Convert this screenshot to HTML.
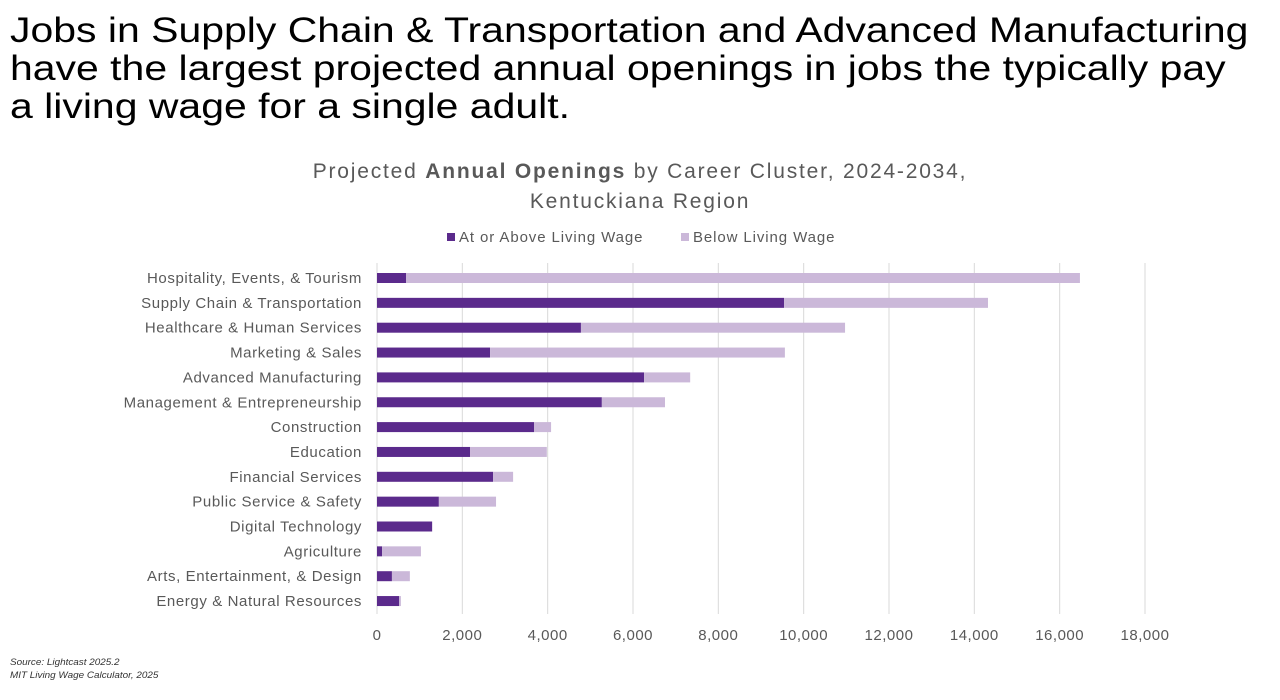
<!DOCTYPE html>
<html><head><meta charset="utf-8"><style>
body{margin:0;width:1280px;height:700px;background:#fff;font-family:"Liberation Sans",sans-serif;overflow:hidden;position:relative}
#title{position:absolute;left:10px;top:12px;font-size:35px;line-height:38px;color:#000;transform:scaleX(1.17);transform-origin:0 0;white-space:nowrap}
.src{position:absolute;left:10px;font-size:9px;font-style:italic;color:#333;transform:scaleX(1.1);transform-origin:0 0}
svg text{letter-spacing:0.5px}
</style></head><body>
<div id="title">Jobs in Supply Chain &amp; Transportation and Advanced Manufacturing<br>have the largest projected annual openings in jobs the typically pay<br>a living wage for a single adult.</div>
<svg id="chart" width="1280" height="700" style="position:absolute;left:0;top:0"></svg>
<div class="src" style="top:657px">Source: Lightcast 2025.2</div>
<div class="src" style="top:670px">MIT Living Wage Calculator, 2025</div>
<script>
const categories=["Hospitality, Events, & Tourism","Supply Chain & Transportation","Healthcare & Human Services","Marketing & Sales","Advanced Manufacturing","Management & Entrepreneurship","Construction","Education","Financial Services","Public Service & Safety","Digital Technology","Agriculture","Arts, Entertainment, & Design","Energy & Natural Resources"];
const aboveWage=[680,9540,4780,2650,6260,5270,3680,2180,2720,1450,1290,120,350,520];
const belowWage=[15795,4780,6190,6910,1080,1480,400,1800,470,1340,10,910,420,40];
const xTicks=[0,2000,4000,6000,8000,10000,12000,14000,16000,18000];
const NS="http://www.w3.org/2000/svg";
const svg=document.getElementById('chart');
const x0=377,x1=1145,xMax=18000,y0=278,step=24.85,bh=10;
const X=v=>x0+(x1-x0)*v/xMax;
const Y=i=>y0+i*step;
function mk(t,a,txt){const e=document.createElementNS(NS,t);for(const k in a)e.setAttribute(k,a[k]);if(txt!==undefined)e.textContent=txt;svg.appendChild(e);return e;}
let t=mk('text',{x:640,y:178,'text-anchor':'middle','font-size':21,fill:'#595959',style:'letter-spacing:1.8px'});
t.innerHTML='Projected <tspan font-weight="bold">Annual Openings</tspan> by Career Cluster, 2024-2034,';


t=mk('text',{x:640,y:208,'text-anchor':'middle','font-size':21,fill:'#595959',style:'letter-spacing:1.8px'},'Kentuckiana Region');


let r=mk('rect',{x:447,y:233,width:8,height:8,fill:'#5b2a8c'});


t=mk('text',{x:459,y:242,'font-size':15,fill:'#595959',style:'letter-spacing:0.9px'},'At or Above Living Wage');


r=mk('rect',{x:681,y:233,width:8,height:8,fill:'#cbb8d9'});


t=mk('text',{x:693,y:242,'font-size':15,fill:'#595959',style:'letter-spacing:0.9px'},'Below Living Wage');


xTicks.forEach(v=>{
 const l=mk('line',{x1:X(v),x2:X(v),y1:263,y2:614,stroke:'#d9d9d9','stroke-width':1});
 
 
 const tt=mk('text',{x:X(v),y:640,'text-anchor':'middle','font-size':15,fill:'#595959'},v.toLocaleString('en-US'));
 
 
});
categories.forEach((c,i)=>{
 const cy=Y(i);
 const lb=mk('text',{x:362,y:cy+5,'text-anchor':'end','font-size':15,fill:'#595959',style:'letter-spacing:0.6px'},c);
 
 
 const a=mk('rect',{x:X(0),y:cy-bh/2,width:X(aboveWage[i])-X(0),height:bh,fill:'#5b2a8c'});
 
 
 const b=mk('rect',{x:X(aboveWage[i]),y:cy-bh/2,width:X(aboveWage[i]+belowWage[i])-X(aboveWage[i]),height:bh,fill:'#cbb8d9'});
 
 
});
</script>
</body></html>
